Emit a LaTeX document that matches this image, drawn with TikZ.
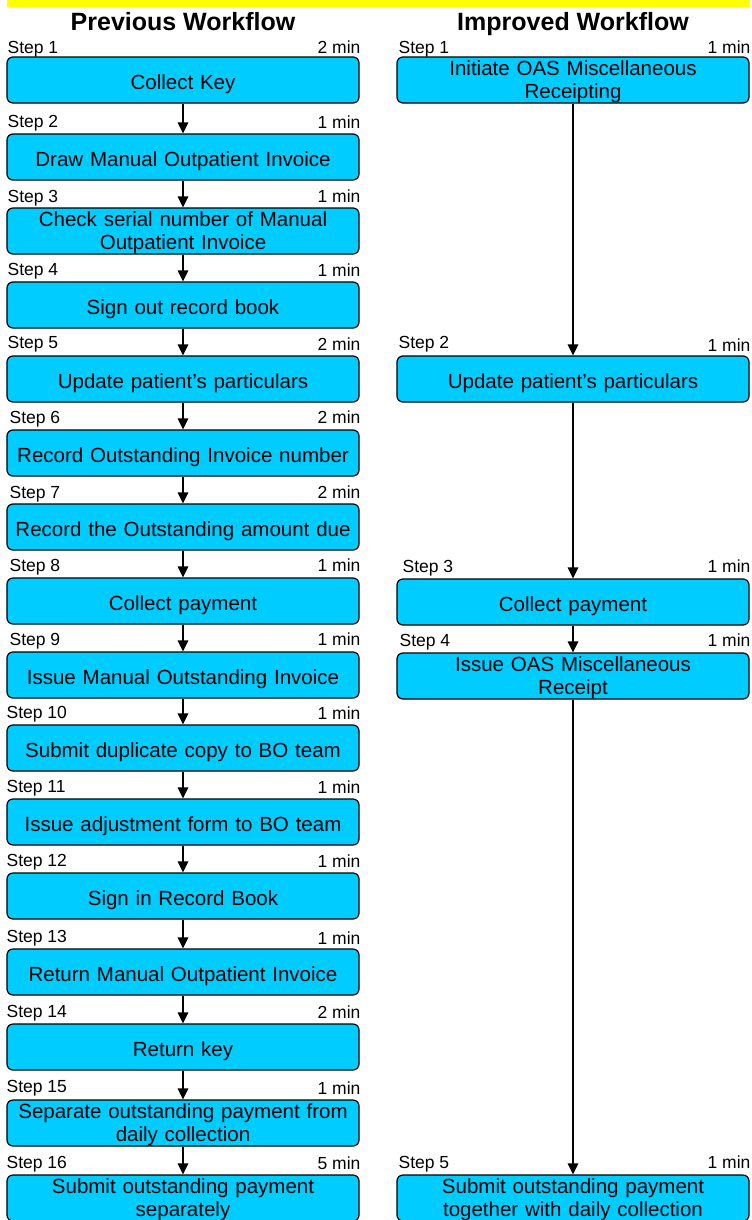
\documentclass[tikz,border=0pt]{standalone}
\usepackage{fontspec}
\setmainfont{Liberation Sans}
\usetikzlibrary{arrows.meta}
\definecolor{boxcyan}{RGB}{0,204,255}
\definecolor{baryellow}{RGB}{255,255,0}
\tikzset{
  box/.style={draw, fill=boxcyan, rounded corners=6bp, line width=1.2bp,
    minimum width=352bp, minimum height=46bp, text width=344bp, align=center,
    inner sep=0pt, font=\fontsize{20.5bp}{23.5bp}\selectfont,
    text height=19bp, text depth=0bp},
  twoline/.style={text height=0bp, text depth=9.4bp},
  steplbl/.style={anchor=base west, inner sep=0pt, font=\fontsize{17.5bp}{20bp}\selectfont},
  minlbl/.style={anchor=base east, inner sep=0pt, font=\fontsize{17.5bp}{20bp}\selectfont},
  title/.style={anchor=base, font=\bfseries\fontsize{25bp}{28bp}\selectfont, inner sep=0pt},
  flow/.style={-{Triangle[width=10.5bp,length=11bp]}, line width=1.4bp}
}
\begin{document}
\begin{tikzpicture}[x=1bp, y=-1bp]
\useasboundingbox (0,0) rectangle (752,1220);
\clip (0,0) rectangle (752,1220);
  \fill[baryellow] (7,0) rectangle (749,7);
  \node[title] (prevtitle) at (183, 30) {Previous Workflow};
  \node[title] (imptitle) at (573, 30) {Improved Workflow};
  % previous workflow
  \node[box] (p1) at (183, 80) {Collect Key};
  \node[box] (p2) at (183, 157) {Draw Manual Outpatient Invoice};
  \node[box, twoline] (p3) at (183, 231) {Check serial number of Manual\\Outpatient Invoice};
  \node[box] (p4) at (183, 305) {Sign out record book};
  \node[box] (p5) at (183, 379) {Update patient’s particulars};
  \node[box] (p6) at (183, 453) {Record Outstanding Invoice number};
  \node[box] (p7) at (183, 527) {Record the Outstanding amount due};
  \node[box] (p8) at (183, 601) {Collect payment};
  \node[box] (p9) at (183, 675) {Issue Manual Outstanding Invoice};
  \node[box] (p10) at (183, 748) {Submit duplicate copy to BO team};
  \node[box] (p11) at (183, 822) {Issue adjustment form to BO team};
  \node[box] (p12) at (183, 896) {Sign in Record Book};
  \node[box] (p13) at (183, 972) {Return Manual Outpatient Invoice};
  \node[box] (p14) at (183, 1047) {Return key};
  \node[box, twoline] (p15) at (183, 1123) {Separate outstanding payment from\\daily collection};
  \node[box, twoline] (p16) at (183, 1198) {Submit outstanding payment\\separately};
  \node[steplbl] (p1step) at ([shift={(1,-3)}]p1.north west) {Step 1};
  \node[minlbl] (p1min) at ([shift={(1,-3)}]p1.north east) {2 min};
  \node[steplbl] (p2step) at ([shift={(1,-6)}]p2.north west) {Step 2};
  \node[minlbl] (p2min) at ([shift={(1,-5)}]p2.north east) {1 min};
  \node[steplbl] (p3step) at ([shift={(1,-5)}]p3.north west) {Step 3};
  \node[minlbl] (p3min) at ([shift={(1,-5)}]p3.north east) {1 min};
  \node[steplbl] (p4step) at ([shift={(1,-6)}]p4.north west) {Step 4};
  \node[minlbl] (p4min) at ([shift={(1,-5)}]p4.north east) {1 min};
  \node[steplbl] (p5step) at ([shift={(1,-7)}]p5.north west) {Step 5};
  \node[minlbl] (p5min) at ([shift={(1,-5)}]p5.north east) {2 min};
  \node[steplbl] (p6step) at ([shift={(3,-6)}]p6.north west) {Step 6};
  \node[minlbl] (p6min) at ([shift={(1,-6)}]p6.north east) {2 min};
  \node[steplbl] (p7step) at ([shift={(3,-5)}]p7.north west) {Step 7};
  \node[minlbl] (p7min) at ([shift={(1,-5)}]p7.north east) {2 min};
  \node[steplbl] (p8step) at ([shift={(3,-6)}]p8.north west) {Step 8};
  \node[minlbl] (p8min) at ([shift={(1,-6)}]p8.north east) {1 min};
  \node[steplbl] (p9step) at ([shift={(3,-6)}]p9.north west) {Step 9};
  \node[minlbl] (p9min) at ([shift={(1,-6)}]p9.north east) {1 min};
  \node[steplbl] (p10step) at ([shift={(0,-6)}]p10.north west) {Step 10};
  \node[minlbl] (p10min) at ([shift={(1,-5)}]p10.north east) {1 min};
  \node[steplbl] (p11step) at ([shift={(0,-6)}]p11.north west) {Step 11};
  \node[minlbl] (p11min) at ([shift={(1,-5)}]p11.north east) {1 min};
  \node[steplbl] (p12step) at ([shift={(0,-6)}]p12.north west) {Step 12};
  \node[minlbl] (p12min) at ([shift={(1,-5)}]p12.north east) {1 min};
  \node[steplbl] (p13step) at ([shift={(0,-6)}]p13.north west) {Step 13};
  \node[minlbl] (p13min) at ([shift={(1,-4)}]p13.north east) {1 min};
  \node[steplbl] (p14step) at ([shift={(0,-6)}]p14.north west) {Step 14};
  \node[minlbl] (p14min) at ([shift={(1,-5)}]p14.north east) {2 min};
  \node[steplbl] (p15step) at ([shift={(0,-7)}]p15.north west) {Step 15};
  \node[minlbl] (p15min) at ([shift={(1,-5)}]p15.north east) {1 min};
  \node[steplbl] (p16step) at ([shift={(0,-6)}]p16.north west) {Step 16};
  \node[minlbl] (p16min) at ([shift={(1,-5)}]p16.north east) {5 min};
  \draw[flow] (p1) -- (p2);
  \draw[flow] (p2) -- (p3);
  \draw[flow] (p3) -- (p4);
  \draw[flow] (p4) -- (p5);
  \draw[flow] (p5) -- (p6);
  \draw[flow] (p6) -- (p7);
  \draw[flow] (p7) -- (p8);
  \draw[flow] (p8) -- (p9);
  \draw[flow] (p9) -- (p10);
  \draw[flow] (p10) -- (p11);
  \draw[flow] (p11) -- (p12);
  \draw[flow] (p12) -- (p13);
  \draw[flow] (p13) -- (p14);
  \draw[flow] (p14) -- (p15);
  \draw[flow] (p15) -- (p16);
  % improved workflow
  \node[box, twoline] (i1) at (573, 80) {Initiate OAS Miscellaneous\\Receipting};
  \node[box] (i2) at (573, 379) {Update patient’s particulars};
  \node[box] (i3) at (573, 602) {Collect payment};
  \node[box, twoline] (i4) at (573, 676) {Issue OAS Miscellaneous\\Receipt};
  \node[box, twoline] (i5) at (573, 1198) {Submit outstanding payment\\together with daily collection};
  \node[steplbl] (i1step) at ([shift={(2,-3)}]i1.north west) {Step 1};
  \node[minlbl] (i1min) at ([shift={(1,-3)}]i1.north east) {1 min};
  \node[steplbl] (i2step) at ([shift={(2,-7)}]i2.north west) {Step 2};
  \node[minlbl] (i2min) at ([shift={(1,-4)}]i2.north east) {1 min};
  \node[steplbl] (i3step) at ([shift={(6,-6)}]i3.north west) {Step 3};
  \node[minlbl] (i3min) at ([shift={(1,-6)}]i3.north east) {1 min};
  \node[steplbl] (i4step) at ([shift={(3,-6)}]i4.north west) {Step 4};
  \node[minlbl] (i4min) at ([shift={(1,-6)}]i4.north east) {1 min};
  \node[steplbl] (i5step) at ([shift={(2,-6)}]i5.north west) {Step 5};
  \node[minlbl] (i5min) at ([shift={(1,-6)}]i5.north east) {1 min};
  \draw[flow] (i1) -- (i2);
  \draw[flow] (i2) -- (i3);
  \draw[flow] (i3) -- (i4);
  \draw[flow] (i4) -- (i5);
\end{tikzpicture}
\end{document}
